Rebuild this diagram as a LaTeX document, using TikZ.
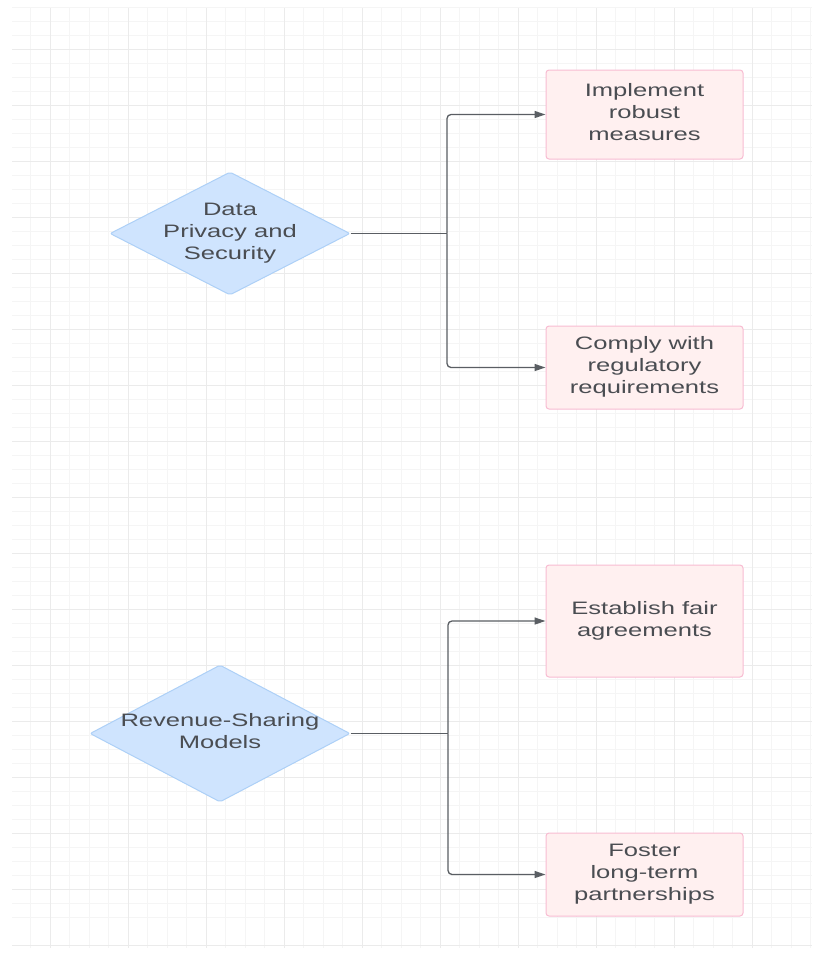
\documentclass[tikz,border=0pt]{standalone}
\usepackage{fontspec}
\usepackage{graphicx}
\setmainfont{Liberation Sans}
\usetikzlibrary{shapes.geometric,arrows.meta}
\definecolor{gridminor}{HTML}{F5F5F5}
\definecolor{gridmajor}{HTML}{EBEBEB}
\definecolor{diafill}{HTML}{CFE4FE}
\definecolor{diadraw}{HTML}{ADD0F7}
\definecolor{boxfill}{HTML}{FFF0F0}
\definecolor{boxdraw}{HTML}{F8BCD2}
\definecolor{txtcol}{HTML}{4A4D52}
\definecolor{linecol}{HTML}{5A5E63}
\newcommand{\sx}[1]{\scalebox{1.42}[1]{\begin{tabular}{@{}c@{}}#1\end{tabular}}}
\tikzset{
  dia/.style={diamond, draw=diadraw, fill=diafill, line width=1pt, inner sep=0pt, rounded corners=2pt},
  txt/.style={text=txtcol, inner sep=0pt, font=\fontsize{18pt}{22pt}\selectfont},
  box/.style={rectangle, draw=boxdraw, fill=boxfill, line width=1pt, rounded corners=3pt, inner sep=0pt, text=txtcol, font=\fontsize{18pt}{22pt}\selectfont, minimum width=197pt},
  conn/.style={draw=linecol, line width=1.3pt},
  arr/.style={conn, rounded corners=4pt, -{Triangle[length=11pt,width=7pt]}}
}
\begin{document}
\begin{tikzpicture}[x=1pt,y=-1pt]
\useasboundingbox (0,0) rectangle (814,956);
\fill[white] (0,0) rectangle (814,956);
% grid
\foreach \k in {0,...,65} {
  \pgfmathsetmacro{\yy}{7+14*\k}
  \draw[gridminor, line width=1pt] (12,\yy) -- (812,\yy);
}
\foreach \k in {-1,...,39} {
  \pgfmathsetmacro{\xx}{50+19.5*\k}
  \draw[gridminor, line width=1pt] (\xx,8) -- (\xx,948);
}
\foreach \k in {0,...,16} {
  \pgfmathsetmacro{\yy}{49+56*\k}
  \draw[gridmajor, line width=1pt] (12,\yy) -- (812,\yy);
}
\foreach \k in {0,...,9} {
  \pgfmathsetmacro{\xx}{50+78*\k}
  \draw[gridmajor, line width=1pt] (\xx,8) -- (\xx,948);
}
% diamonds
\node[dia, minimum width=240pt, minimum height=123pt] (d1) at (230,233.5) {};
\node[txt] (t1) at (d1.center) {\sx{Data\\Privacy and\\Security}};
\node[dia, minimum width=260pt, minimum height=137pt] (d2) at (220,733.5) {};
\node[txt] (t2) at (d2.center) {\sx{Revenue-Sharing\\Models}};
% boxes
\node[box, minimum height=89pt] (b1) at (644.5,114.5) {\sx{Implement\\robust\\measures}};
\node[box, minimum height=83pt] (b2) at (644.5,367.5) {\sx{Comply with\\regulatory\\requirements}};
\node[box, minimum height=112pt] (b3) at (644.5,621) {\sx{Establish fair\\agreements}};
\node[box, minimum height=83pt] (b4) at (644.5,874.5) {\sx{Foster\\long-term\\partnerships}};
% connectors
\coordinate (j1) at (447,233.5);
\coordinate (j2) at (448,733.5);
\draw[conn] (d1.east) -- (j1);
\draw[arr] (j1) |- (b1.west);
\draw[arr] (j1) |- (b2.west);
\draw[conn] (d2.east) -- (j2);
\draw[arr] (j2) |- (b3.west);
\draw[arr] (j2) |- (b4.west);
\end{tikzpicture}
\end{document}
